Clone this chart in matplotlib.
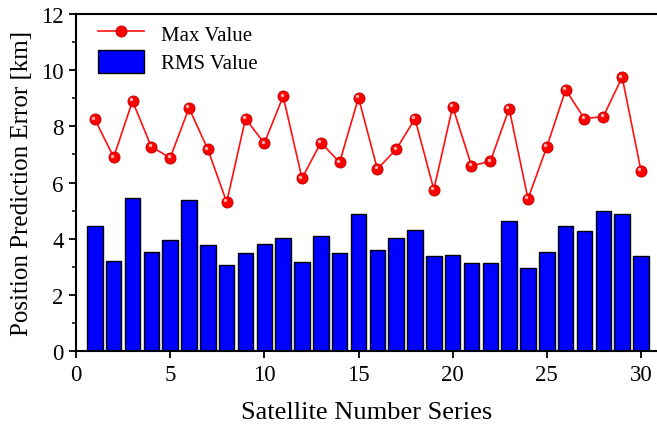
import matplotlib
matplotlib.use('Agg')
import matplotlib.pyplot as plt
from matplotlib.ticker import MultipleLocator
import matplotlib.transforms as mtransforms

plt.rcParams['font.family'] = ['Liberation Serif', 'DejaVu Serif']

sats = list(range(1, 31))
max_vals = [8.25, 6.9, 8.9, 7.27, 6.88, 8.65, 7.18, 5.3, 8.27, 7.4,
            9.07, 6.15, 7.42, 6.72, 9.02, 6.48, 7.18, 8.27, 5.75, 8.7,
            6.6, 6.75, 8.63, 5.42, 7.27, 9.3, 8.27, 8.35, 9.75, 6.42]
rms_vals = [4.46, 3.2, 5.45, 3.54, 3.94, 5.38, 3.76, 3.07, 3.49, 3.82,
            4.04, 3.17, 4.1, 3.5, 4.87, 3.6, 4.04, 4.32, 3.39, 3.42,
            3.13, 3.15, 4.63, 2.95, 3.54, 4.46, 4.27, 4.98, 4.89, 3.39]

fig = plt.figure(figsize=(6.57, 4.27), dpi=100)
ax = fig.add_axes([0.1157, 0.1756, 0.8843, 0.7893])

ax.bar(sats, rms_vals, width=0.82, color='#0000ff', edgecolor='black',
       linewidth=1.0, label='RMS Value', zorder=2)
ax.plot(sats, max_vals, color='#ff1010', linewidth=1.2, marker='o',
        markersize=8, markerfacecolor='#ff0000', markeredgecolor='#c00000',
        markeredgewidth=0.6, label='Max Value', zorder=3)
# small highlight on each marker
shine = mtransforms.offset_copy(ax.transData, fig=fig, x=-1.2, y=1.2, units='points')
ax.plot(sats, max_vals, linestyle='none', marker='o', markersize=2.5,
        markerfacecolor='#ffb0b0', markeredgewidth=0, transform=shine, zorder=4)

ax.set_xlim(0, 30.85)
ax.set_ylim(0, 12)
ax.xaxis.set_major_locator(MultipleLocator(5))
ax.yaxis.set_major_locator(MultipleLocator(2))
ax.yaxis.set_minor_locator(MultipleLocator(1))
ax.spines['right'].set_visible(False)
for s in ['left', 'bottom', 'top']:
    ax.spines[s].set_linewidth(1.5)
ax.tick_params(axis='both', which='major', direction='out', length=5,
               width=1.3, labelsize=16.5, pad=4)
ax.tick_params(axis='y', which='minor', direction='out', length=3, width=1.1)
ax.tick_params(axis='x', which='both', top=False)

ax.set_xlabel('Satellite Number Series', fontsize=19, labelpad=12)
ax.set_ylabel('Position Prediction Error [km]', fontsize=18, labelpad=6)

ax.legend(loc='upper left', frameon=False, fontsize=15, handlelength=2.2,
          handleheight=1.35, borderaxespad=0.1, labelspacing=0.2,
          handletextpad=0.8, bbox_to_anchor=(0.02, 1.008))

fig.savefig('out.png', dpi=100)
